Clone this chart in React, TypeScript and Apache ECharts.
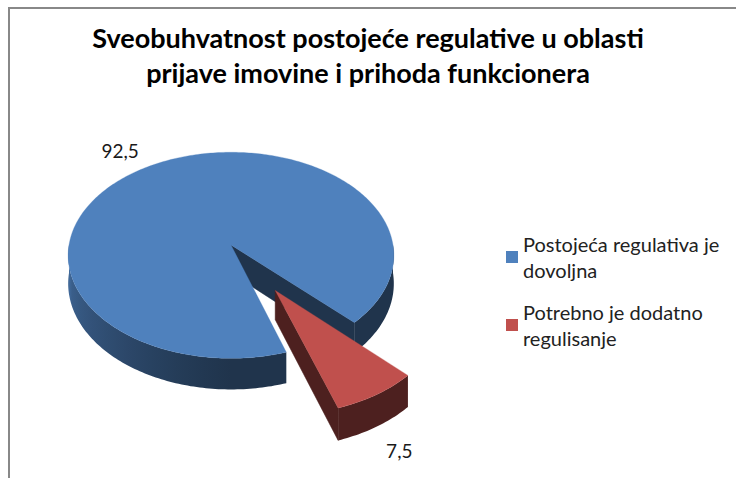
import React, { useEffect, useRef } from "react";
import * as echarts from "echarts";

// ---------- data ----------
const titleLines = [
  "Sveobuhvatnost postojeće regulative u oblasti",
  "prijave imovine i prihoda funkcionera",
];
const categories = ["Postojeća regulativa je dovoljna", "Potrebno je dodatno regulisanje"];
const legendLines = [
  ["Postojeća regulativa je", "dovoljna"],
  ["Potrebno je dodatno", "regulisanje"],
];
const values = [92.5, 7.5];
const explode = [0, 0.5];
const colors = ["#4F81BD", "#C0504D"];

// ---------- 3D pie geometry (layout, not data) ----------
const GEO = { cx: 231, cy: 245, rx: 162, ry: 102, k: 0.1, depth: 28, startAngle: 72 };
const total = values.reduce((a, b) => a + b, 0);

function hexToRgb(h: string) {
  const n = parseInt(h.slice(1), 16);
  return [(n >> 16) & 255, (n >> 8) & 255, n & 255];
}
function shade(hex: string, f: number) {
  const [r, g, b] = hexToRgb(hex);
  return `rgb(${Math.round(r * f)},${Math.round(g * f)},${Math.round(b * f)})`;
}
function norm(d: number) {
  return ((d % 360) + 360) % 360;
}
function wallFactor(deg: number) {
  const m = norm(deg);
  const t = Math.max(0, Math.min(1, (m - 90) / 90));
  return 0.4 + 0.42 * Math.pow(t, 1.1);
}

function makeRenderItem(idx: number) {
  return (params: any, api: any) => {
    const val = api.value(1);
    let before = 0;
    for (let j = 0; j < idx; j++) before += values[j];
    const a0 = GEO.startAngle + (before / total) * 360;
    const a1 = a0 + (val / total) * 360;
    const midDeg = (a0 + a1) / 2;
    const mid = (midDeg * Math.PI) / 180;
    const ox = explode[idx] * Math.cos(mid);
    const oy = explode[idx] * Math.sin(mid);
    const P = (u: number, v: number, z: number) => {
      const f = 1 / (1 - GEO.k * v);
      return [GEO.cx + GEO.rx * u * f, GEO.cy + GEO.ry * v * f + z * GEO.depth * f];
    };
    const rim = (deg: number, z: number) => {
      const t = (deg * Math.PI) / 180;
      return P(ox + Math.cos(t), oy + Math.sin(t), z);
    };
    const centre = (z: number) => P(ox, oy, z);
    const base = colors[idx];
    const dark = shade(base, 0.4);
    const children: any[] = [];

    // radial walls
    const c0 = Math.cos((a0 * Math.PI) / 180);
    const c1 = Math.cos((a1 * Math.PI) / 180);
    if (c0 < 0) {
      children.push({
        type: "polygon",
        shape: { points: [centre(0), rim(a0, 0), rim(a0, 1), centre(1)] },
        style: { fill: dark, stroke: dark, lineWidth: 0.5 },
      });
    }
    if (c1 > 0) {
      children.push({
        type: "polygon",
        shape: { points: [centre(0), rim(a1, 0), rim(a1, 1), centre(1)] },
        style: { fill: dark, stroke: dark, lineWidth: 0.5 },
      });
    }
    // outer wall (front half only), one gradient polygon per visible range
    for (let kk = -1; kk <= 2; kk++) {
      const s = Math.max(a0, kk * 360);
      const e = Math.min(a1, kk * 360 + 180);
      if (e - s <= 0.01) continue;
      const top: number[][] = [];
      const bot: number[][] = [];
      const n = Math.max(2, Math.ceil((e - s) / 1));
      for (let q = 0; q <= n; q++) {
        const d = s + ((e - s) * q) / n;
        top.push(rim(d, 0));
        bot.push(rim(d, 1));
      }
      const pts = top.concat(bot.reverse());
      const xs = pts.map((p) => p[0]);
      const xl = Math.min(...xs);
      const xr = Math.max(...xs);
      const stops: any[] = [];
      for (let q = 0; q <= 12; q++) {
        const d = s + ((e - s) * q) / 12;
        const x = rim(d, 0)[0];
        stops.push({ offset: Math.max(0, Math.min(1, (x - xl) / Math.max(1, xr - xl))), color: shade(base, wallFactor(d)) });
      }
      stops.sort((p, q) => p.offset - q.offset);
      children.push({
        type: "polygon",
        shape: { points: pts },
        style: {
          fill: { type: "linear", x: xl, y: 0, x2: xr, y2: 0, global: true, colorStops: stops },
        },
      });
    }
    // top face
    const pts: number[][] = [centre(0)];
    for (let d = a0; d <= a1 + 1e-6; d += 1) pts.push(rim(Math.min(d, a1), 0));
    pts.push(rim(a1, 0));
    children.push({
      type: "polygon",
      shape: { points: pts },
      style: { fill: base, stroke: base, lineWidth: 0.3 },
    });
    // value label
    const cm = Math.cos(mid);
    const sm = Math.sin(mid);
    const lp = P(ox + 1.2 * cm, oy + 1.2 * sm, sm > 0 ? 1 : 0);
    children.push({
      type: "text",
      x: lp[0],
      y: lp[1],
      style: {
        text: String(val).replace(".", ","),
        fill: "#1a1a1a",
        font: "19px Lato",
        align: cm < -0.3 ? "right" : cm > 0.7 ? "left" : "center",
        verticalAlign: "middle",
      },
    });
    return { type: "group", children };
  };
}

export default function App() {
  const ref = useRef<HTMLDivElement>(null);
  useEffect(() => {
    if (!ref.current) return;
    const chart = echarts.init(ref.current, null, { renderer: "svg" });
    const legendMap: Record<string, string> = {};
    categories.forEach((c, i) => (legendMap[c] = legendLines[i].join("\n")));
    chart.setOption({
      animation: false,
      backgroundColor: "#ffffff",
      title: {
        text: titleLines.join("\n"),
        left: "center",
        top: 15,
        textStyle: {
          fontFamily: "Lato",
          fontWeight: "bold",
          fontSize: 27,
          lineHeight: 35,
          color: "#000",
        },
      },
      legend: {
        orient: "vertical",
        left: 501,
        top: 213,
        itemWidth: 12,
        itemHeight: 12,
        itemGap: -10,
        icon: "rect",
        selectedMode: false,
        data: categories,
        formatter: (name: string) => legendMap[name],
        textStyle: {
          fontFamily: "Lato",
          fontSize: 20,
          lineHeight: 26,
          padding: [26, 0, 0, 0],
          color: "#222",
        },
      },
      graphic: [
        {
          type: "rect",
          silent: true,
          shape: { x: 9, y: 8, width: 800, height: 600 },
          style: { fill: "none", stroke: "#888", lineWidth: 2 },
        },
      ],
      series: categories.map((name, i) => ({
        type: "custom",
        name,
        coordinateSystem: "none",
        silent: true,
        color: colors[i],
        itemStyle: { color: colors[i] },
        data: [[i, values[i]]],
        renderItem: makeRenderItem(i),
      })),
    });
    return () => chart.dispose();
  }, []);
  return (
    <div
      ref={ref}
      style={{ position: "absolute", left: 0, top: 0, width: 736, height: 478 }}
    />
  );
}
